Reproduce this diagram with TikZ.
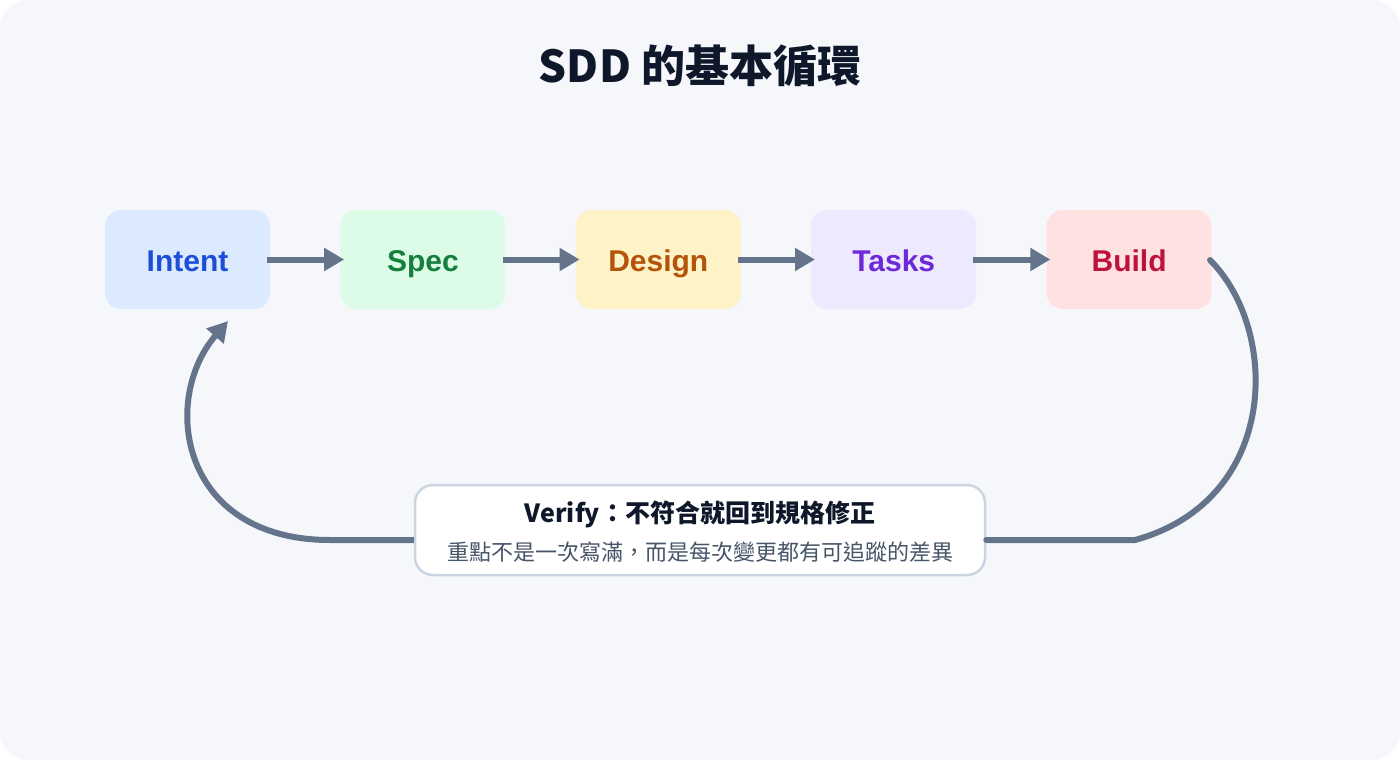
\documentclass[tikz,border=0pt]{standalone}
\usepackage{fontspec}
\setmainfont{Liberation Sans}
\newfontfamily\cjk{Noto Sans CJK TC}
\usetikzlibrary{positioning,arrows.meta}
\definecolor{bgc}{HTML}{F6F7FB}
\definecolor{flow}{HTML}{64748B}
\definecolor{edge}{HTML}{CBD5E1}
\definecolor{ink}{HTML}{0F172A}
\definecolor{sub}{HTML}{475569}
\definecolor{fIntent}{HTML}{DBEAFE}\definecolor{tIntent}{HTML}{1D4ED8}
\definecolor{fSpec}{HTML}{DCFCE7}\definecolor{tSpec}{HTML}{15803D}
\definecolor{fDesign}{HTML}{FEF3C7}\definecolor{tDesign}{HTML}{B45309}
\definecolor{fTasks}{HTML}{EDE9FE}\definecolor{tTasks}{HTML}{6D28D9}
\definecolor{fBuild}{HTML}{FEE2E2}\definecolor{tBuild}{HTML}{BE123C}
\tikzset{
  stage/.style={rounded corners=16pt, minimum width=165pt, minimum height=99pt,
    inner sep=0pt, text height=24pt, text depth=0pt,
    font=\fontsize{30}{34}\selectfont\bfseries},
  link/.style={draw=flow, line width=6pt, -{Triangle[length=20pt,width=22pt]}},
}
\begin{document}
\begin{tikzpicture}[x=1pt,y=1pt,yscale=-1]
\useasboundingbox (0,0) rectangle (1400,760);
\fill[white] (0,0) rectangle (1400,760);
\fill[bgc, rounded corners=28pt] (0,0) rectangle (1400,760);

% title
\node (title) at (700,66) {\cjk\fontsize{44}{50}\selectfont\bfseries\color{ink}SDD 的基本循環};

% stages
\node[stage, fill=fIntent, text=tIntent] (intent) at (187.5,259.5) {Intent};
\node[stage, fill=fSpec, text=tSpec, right=70pt of intent] (spec) {Spec};
\node[stage, fill=fDesign, text=tDesign, right=70pt of spec] (design) {Design};
\node[stage, fill=fTasks, text=tTasks, right=70pt of design] (tasks) {Tasks};
\node[stage, fill=fBuild, text=tBuild, right=70pt of tasks] (build) {Build};

\foreach \a/\b in {intent/spec,spec/design,design/tasks,tasks/build}
  \draw[link, shorten <=-3pt, shorten >=-4pt] (\a.east) -- (\b.west);

% verify box
\node[draw=edge, line width=2.5pt, fill=white, rounded corners=18pt,
  minimum width=570pt, minimum height=90pt] (verify) at (700,530) {};
\node (vtitle) at (700,514) {\cjk\fontsize{25}{29}\selectfont\bfseries\color{ink}Verify：不符合就回到規格修正};
\node (vsub) at (700,552) {\cjk\fontsize{22}{26}\selectfont\color{sub}重點不是一次寫滿，而是每次變更都有可追蹤的差異};

% loop back
\coordinate (bstart) at (1210,260);
\coordinate (iend) at (228,321);
\draw[draw=flow, line width=6pt, line cap=round]
  (bstart) .. controls (1280,330) and (1280,500) .. (1135,540) -- (verify.east |- 0,540);
\draw[link] (verify.west |- 0,540) -- (330,540)
  .. controls (180,540) and (160,400) .. (iend);
\end{tikzpicture}
\end{document}
